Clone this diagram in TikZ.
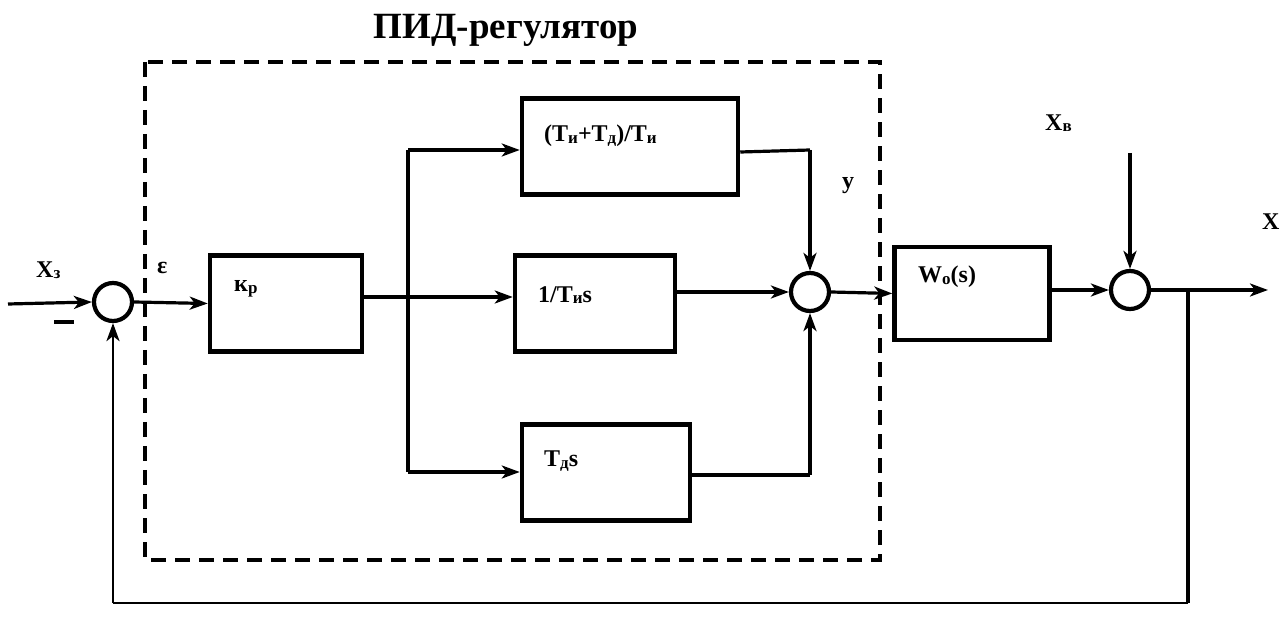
\documentclass[tikz,border=0pt]{standalone}
\usepackage{fontspec}
\setmainfont{Liberation Serif}
\usetikzlibrary{arrows.meta}
\newcommand\lowsub[1]{\raisebox{-1.5pt}{\fontsize{17}{17}\selectfont #1}}
\begin{document}
\begin{tikzpicture}[x=1pt,y=-1pt,
  blk/.style={draw, line width=4.5pt, minimum width=#1, minimum height=96pt, inner sep=0pt},
  sumc/.style={draw, circle, line width=4.2pt, minimum size=38pt, inner sep=0pt},
  lbl/.style={font=\fontsize{24}{24}\selectfont\bfseries, inner sep=0pt, anchor=west},
  conn/.style={line width=3.2pt},
  arr/.style={conn, -{Stealth[length=18pt, width=13pt, inset=5pt]}},
  fb/.style={line width=2.6pt}]
\useasboundingbox (0,0) rectangle (1283,617);
% dashed box
\draw[line width=4pt, dash pattern=on 15pt off 9pt] (145,62) rectangle (880,560);
\node[font=\fontsize{37}{37}\selectfont\bfseries, inner sep=0pt] (title) at (506,30) {ПИД-регулятор};
% blocks
\node[blk=152pt] (kp) at (286,303.5) {};
\node[blk=216pt] (top) at (630,146.5) {};
\node[blk=160pt] (mid) at (595,303.5) {};
\node[blk=168pt] (bot) at (606,472.5) {};
\node[blk=155pt, minimum height=93pt] (wo) at (972,293.5) {};
\node[lbl] (kpt) at (234,289) {к\lowsub{р}};
\node[lbl] (topt) at (544,136) {(T\lowsub{и}+T\lowsub{д})/T\lowsub{и}};
\node[lbl] (midt) at (538,295) {1/T\lowsub{и}s};
\node[lbl] (bott) at (544,461) {T\lowsub{д}s};
\node[lbl] (wot) at (918,277) {W\lowsub{o}(s)};
% summing junctions
\node[sumc] (s1) at (113,302) {};
\node[sumc] (s2) at (810,292) {};
\node[sumc] (s3) at (1130,290) {};
% labels
\node[lbl] (xz) at (36,270) {X\lowsub{з}};
\node[lbl] (eps) at (157,268) {ε};
\node[lbl] (yl) at (842,186) {y};
\node[lbl] (xv) at (1045,123) {X\lowsub{в}};
\node[lbl] (xo) at (1262,222) {X};
\draw[line width=4.5pt] (54,322) -- (74,322);
% coordinates
\coordinate (in) at (8,304);
\coordinate (br) at (408,297);
\coordinate (brt) at (408,150);
\coordinate (brb) at (408,472);
\coordinate (tr) at (810,150);
\coordinate (bl) at (810,475);
\coordinate (xvin) at (1130,153);
\coordinate (tap) at (1188,290);
\coordinate (out) at (1268,290);
\coordinate (fbr) at (1188,603);
\coordinate (fbl) at (113,603);
% connectors
\draw[arr] (in) -- (s1.west);
\draw[arr] (s1.east) -- (kp.west);
\draw[conn] (kp.east |- br) -- (br);
\draw[conn] (brt) -- (brb);
\draw[arr] (br) -- (mid.west |- br);
\draw[arr] (brt) -- (top.west |- brt);
\draw[arr] (brb) -- (bot.west |- brb);
\draw[conn] (top.east |- 0,152) -- (tr);
\draw[arr] (tr) -- (s2.north);
\draw[arr] (mid.east |- s2) -- (s2.west);
\draw[conn] (bot.east |- bl) -- (bl);
\draw[arr] (bl) -- (s2.south);
\draw[arr] (s2.east) -- (wo.west);
\draw[arr] (wo.east |- s3) -- (s3.west);
\draw[arr] (xvin) -- (s3.north);
\draw[arr] (s3.east) -- (out);
\draw[conn] (tap) -- (fbr);
\draw[fb] (fbr) -- (fbl);
\draw[arr, line width=2.8pt] (fbl) -- (s1.south);
\end{tikzpicture}
\end{document}
